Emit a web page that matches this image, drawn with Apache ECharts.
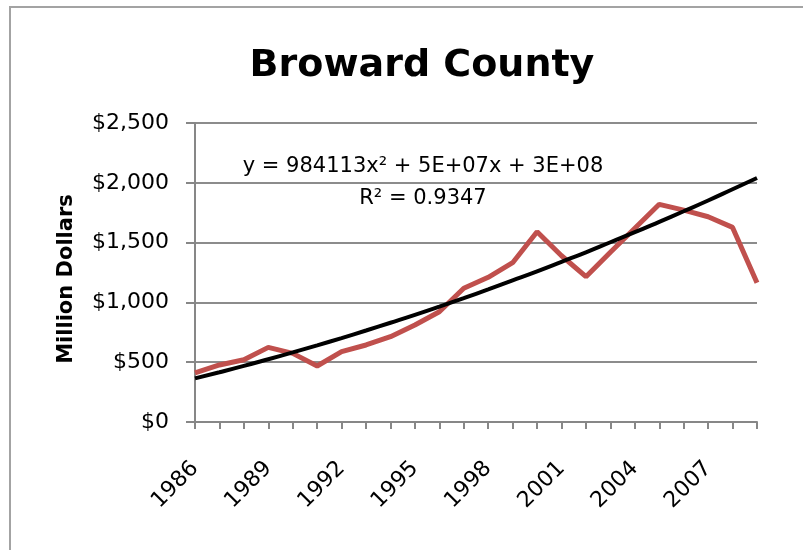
<!DOCTYPE html>
<html>
    <head>
        <meta charset="utf-8">
        <title>Broward County</title>
        <style>
            html, body { margin: 0; padding: 0; background: #fff; }
            #chart1 { width: 803px; height: 550px; }
        </style>
    </head>
    <body>
        <div id="chart1"></div>
    </body>
    <script src="https://cdn.jsdelivr.net/npm/echarts@6/dist/echarts.min.js"></script>
    <script>
        // years on the x axis
        var years = ['1986', '1987', '1988', '1989', '1990', '1991', '1992', '1993',
                     '1994', '1995', '1996', '1997', '1998', '1999', '2000', '2001',
                     '2002', '2003', '2004', '2005', '2006', '2007', '2008', '2009'];
        // million dollars (red line)
        var values = [410, 477, 520, 624, 574, 468, 588, 644,
                      713, 811, 922, 1118, 1210, 1332, 1591, 1390,
                      1215, 1420, 1620, 1820, 1772, 1716, 1627, 1165];
        // polynomial trendline as drawn in the picture (black line), million dollars
        var trendValues = [365, 416, 469, 525, 582, 641, 702, 765,
                           830, 896, 965, 1036, 1109, 1184, 1260, 1339,
                           1419, 1503, 1587, 1674, 1762, 1852, 1946, 2040];
        var yTicks = [0, 500, 1000, 1500, 2000, 2500];
        var eqText = ['y = 984113x\u00b2 + 5E+07x + 3E+08', 'R\u00b2 = 0.9347'];

        var font = 'DejaVu Sans';
        var myChart = echarts.init(document.getElementById('chart1'));
        myChart.setOption({
            animation: false,
            title: {
                text: 'Broward County',
                left: 417,
                top: 42,
                textAlign: 'center',
                textStyle: { fontFamily: font, fontSize: 38, fontWeight: 'bold', color: '#000' }
            },
            grid: { left: 195, right: 46, top: 123, bottom: 128 },
            xAxis: {
                type: 'category',
                data: years,
                boundaryGap: false,
                axisLine: { lineStyle: { color: '#878787', width: 2 } },
                axisTick: { interval: 0, length: 7, lineStyle: { color: '#878787', width: 2 } },
                axisLabel: {
                    interval: 2,
                    rotate: 45,
                    margin: 43,
                    fontFamily: font,
                    fontSize: 22,
                    color: '#000'
                }
            },
            yAxis: {
                type: 'value',
                min: yTicks[0],
                max: yTicks[yTicks.length - 1],
                interval: 500,
                axisLine: { show: true, lineStyle: { color: '#878787', width: 2 } },
                axisTick: { show: true, length: 9, lineStyle: { color: '#878787', width: 2 } },
                splitLine: { lineStyle: { color: '#8c8c8c', width: 2 } },
                axisLabel: {
                    margin: 26,
                    fontFamily: font,
                    fontSize: 22,
                    color: '#000',
                    formatter: function (v) { return '$' + v.toLocaleString('en-US'); }
                }
            },
            graphic: [
                {
                    type: 'rect',
                    shape: { x: 10, y: 7, width: 1000, height: 800 },
                    style: { fill: 'none', stroke: '#a3a3a3', lineWidth: 2 },
                    silent: true
                },
                {
                    type: 'text', x: 67, y: 279, rotation: Math.PI / 2,
                    style: { text: 'Million Dollars', fontFamily: font, fontSize: 21, fontWeight: 'bold', fill: '#000', align: 'center', verticalAlign: 'middle' }
                },
                {
                    type: 'text', x: 423, y: 167,
                    style: { text: eqText[0], fontFamily: font, fontSize: 21, fill: '#000', align: 'center', verticalAlign: 'middle' }
                },
                {
                    type: 'text', x: 423, y: 199,
                    style: { text: eqText[1], fontFamily: font, fontSize: 21, fill: '#000', align: 'center', verticalAlign: 'middle' }
                }
            ],
            series: [
                {
                    name: 'Broward County',
                    type: 'line',
                    data: values,
                    showSymbol: false,
                    lineStyle: { color: '#C0504D', width: 5 }
                },
                {
                    name: 'Poly. trend',
                    type: 'line',
                    data: trendValues,
                    showSymbol: false,
                    smooth: true,
                    lineStyle: { color: '#000', width: 4 }
                }
            ]
        });
    </script>
</html>
